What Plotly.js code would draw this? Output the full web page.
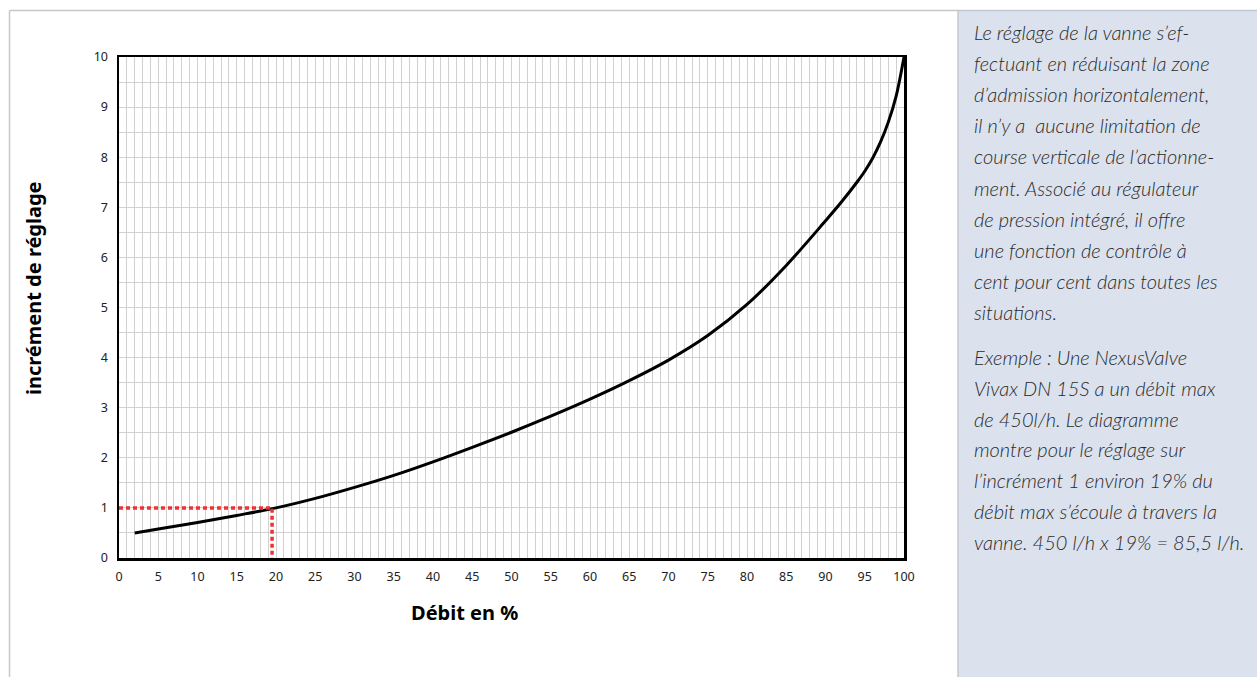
<!DOCTYPE html>
<html>
<head>
<meta charset="utf-8">
<script src="https://cdn.plot.ly/plotly-3.0.1.min.js"></script>
<style>html,body{margin:0;padding:0;background:#fff;}#chart{width:1257px;height:677px;}</style>
</head>
<body>
<div id="chart"></div>
<script>
// Data
const debitPct = [2, 5, 10, 15, 20, 25, 30, 35, 40, 45, 50, 55, 60, 65, 70, 75, 80, 85, 90, 92, 94, 95, 96, 97, 98, 99, 100];
const increment = [0.5, 0.58, 0.71, 0.85, 1.0, 1.19, 1.41, 1.65, 1.92, 2.21, 2.51, 2.83, 3.17, 3.54, 3.95, 4.44, 5.06, 5.84, 6.73, 7.1, 7.5, 7.72, 7.98, 8.3, 8.7, 9.22, 10.0];
const exampleX = [0, 19.5, 19.5];
const exampleY = [1, 1, 0];
const xTitle = "Débit en %";
const yTitle = "incrément de réglage";
const para1 = [
  "Le réglage de la vanne s’ef-",
  "fectuant en réduisant la zone",
  "d’admission horizontalement,",
  "il n’y a  aucune limitation de",
  "course verticale de l’actionne-",
  "ment. Associé au régulateur",
  "de pression intégré, il offre",
  "une fonction de contrôle à",
  "cent pour cent dans toutes les",
  "situations."
];
const para2 = [
  "Exemple : Une NexusValve",
  "Vivax DN 15S a un débit max",
  "de 450l/h. Le diagramme",
  "montre pour le réglage sur",
  "l’incrément 1 environ 19% du",
  "débit max s’écoule à travers la",
  "vanne. 450 l/h x 19% = 85,5 l/h."
];

const W = 1257, H = 677;
const M = {l: 119, r: 353, t: 57, b: 119};
const PW = W - M.l - M.r, PH = H - M.t - M.b;
const px = X => (X - M.l) / PW;
const py = Y => (H - M.b - Y) / PH;

const traces = [
  {x: debitPct, y: increment, type: 'scatter', mode: 'lines',
   line: {color: '#000', width: 3, shape: 'spline', smoothing: 1}, hoverinfo: 'skip'},
  {x: exampleX, y: exampleY, type: 'scatter', mode: 'lines',
   line: {color: '#ee3333', width: 3.5, dash: '4px,3px'}, hoverinfo: 'skip'}
];

const textFont = {family: 'Lato, "Open Sans", sans-serif', size: 20, color: '#2a2a2a', style: 'italic', weight: 300};
const annotations = [];
para1.forEach((t, i) => annotations.push({
  text: t, xref: 'paper', yref: 'paper', x: px(972), y: py(32 + 31.1 * i),
  xanchor: 'left', yanchor: 'middle', showarrow: false, font: textFont
}));
para2.forEach((t, i) => annotations.push({
  text: t, xref: 'paper', yref: 'paper', x: px(972), y: py(357 + 30.8 * i),
  xanchor: 'left', yanchor: 'middle', showarrow: false, font: textFont
}));
annotations.push({text: '<b>' + xTitle + '</b>', xref: 'paper', yref: 'paper', x: px(464), y: py(612),
  xanchor: 'center', yanchor: 'middle', showarrow: false,
  font: {family: '"Noto Sans", sans-serif', size: 20, color: '#000'}});
annotations.push({text: '<b>' + yTitle + '</b>', xref: 'paper', yref: 'paper', x: px(33), y: py(288),
  xanchor: 'center', yanchor: 'middle', showarrow: false, textangle: -90,
  font: {family: '"Noto Sans", sans-serif', size: 20, color: '#000'}});

const shapes = [
  {type: 'rect', xref: 'paper', yref: 'paper', x0: px(958), x1: px(1260), y0: py(680), y1: py(10.5),
   fillcolor: '#dbe2ee', line: {color: '#c4c8cf', width: 1.5}, layer: 'below'},
  {type: 'line', xref: 'paper', yref: 'paper', x0: px(9.5), x1: px(958), y0: py(10.5), y1: py(10.5),
   line: {color: '#c8c8c8', width: 1.5}},
  {type: 'line', xref: 'paper', yref: 'paper', x0: px(9.5), x1: px(9.5), y0: py(10.5), y1: py(680),
   line: {color: '#c8c8c8', width: 1.5}}
];

const tickFont = {family: '"Noto Sans", sans-serif', size: 12.5, color: '#222'};
const layout = {
  width: W, height: H, margin: M,
  paper_bgcolor: '#fff', plot_bgcolor: '#fff', showlegend: false,
  xaxis: {range: [0, 100], dtick: 5, tick0: 0, showgrid: true, gridcolor: '#d0d0d0', gridwidth: 1,
    minor: {dtick: 1, showgrid: true, gridcolor: '#d0d0d0', gridwidth: 1},
    showline: true, mirror: true, linecolor: '#000', linewidth: 2.5, zeroline: false,
    ticks: '', tickfont: tickFont, ticklabelstandoff: 5, fixedrange: true},
  yaxis: {range: [0, 10], dtick: 1, tick0: 0, showgrid: true, gridcolor: '#d0d0d0', gridwidth: 1,
    minor: {dtick: 0.5, showgrid: true, gridcolor: '#d0d0d0', gridwidth: 1},
    showline: true, mirror: true, linecolor: '#000', linewidth: 2.5, zeroline: false,
    ticks: '', tickfont: tickFont, ticklabelstandoff: 6, fixedrange: true},
  annotations: annotations, shapes: shapes
};
Plotly.newPlot('chart', traces, layout, {displayModeBar: false, staticPlot: true});
</script>
</body>
</html>
